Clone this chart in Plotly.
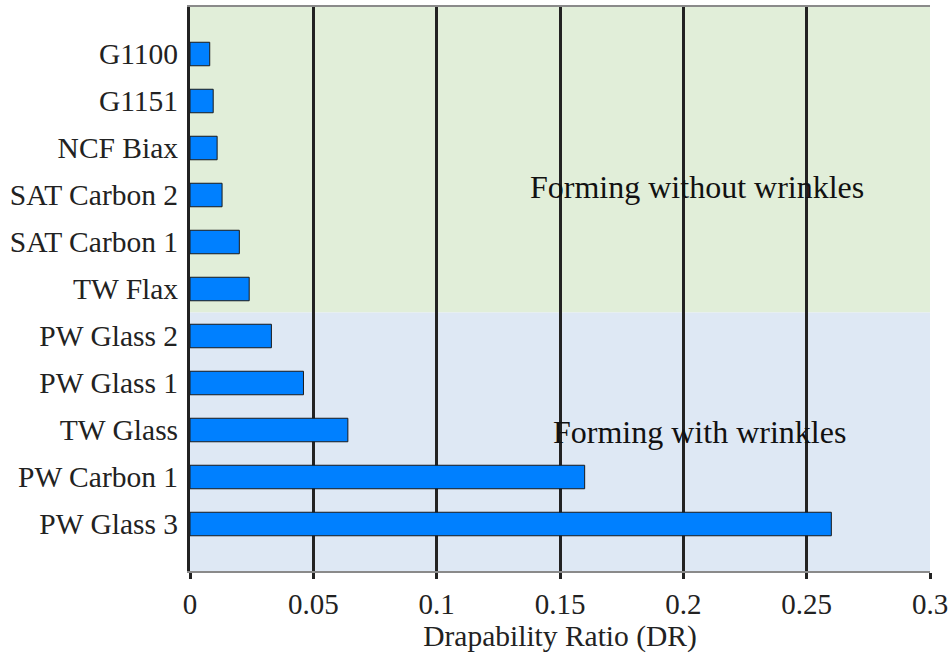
import plotly.graph_objects as go

categories = ["PW Glass 3", "PW Carbon 1", "TW Glass", "PW Glass 1", "PW Glass 2",
              "TW Flax", "SAT Carbon 1", "SAT Carbon 2", "NCF Biax", "G1151", "G1100"]
dr_values = [0.260, 0.160, 0.064, 0.046, 0.033, 0.024, 0.020, 0.013, 0.011, 0.0094, 0.008]
x_ticks = [0, 0.05, 0.1, 0.15, 0.2, 0.25, 0.3]
x_tick_labels = ["0", "0.05", "0.1", "0.15", "0.2", "0.25", "0.3"]
region_labels = ["Forming without wrinkles", "Forming with wrinkles"]

FONT = "Liberation Serif"

fig = go.Figure()
fig.add_trace(go.Bar(
    x=dr_values, y=categories, orientation="h", width=0.5,
    marker=dict(color="#0080FF", line=dict(color="#1a1a1a", width=1)),
    showlegend=False, hoverinfo="x+y",
))

# background regions
fig.add_shape(type="rect", xref="x domain", yref="y", x0=-0.004, x1=1, y0=4.5, y1=11,
              fillcolor="#E1EED9", line_width=0, layer="below")
fig.add_shape(type="rect", xref="x domain", yref="y", x0=-0.004, x1=1, y0=-1, y1=4.5,
              fillcolor="#DEE8F4", line_width=0, layer="below")

fig.add_annotation(x=0.2055, y=7.17, xref="x", yref="y", text=region_labels[0],
                   showarrow=False, font=dict(family=FONT, size=32, color="#111"))
fig.add_annotation(x=0.2065, y=1.96, xref="x", yref="y", text=region_labels[1],
                   showarrow=False, font=dict(family=FONT, size=32, color="#111"))

fig.update_layout(
    width=951, height=657,
    margin=dict(l=190, r=21, t=7, b=86, autoexpand=False),
    paper_bgcolor="white", plot_bgcolor="rgba(0,0,0,0)",
    font=dict(family=FONT, size=29, color="#222"),
    bargap=0.5,
    xaxis=dict(
        range=[0, 0.3], tickvals=x_ticks, ticktext=x_tick_labels,
        showgrid=True, gridcolor="#222", gridwidth=3,
        zeroline=False, automargin=False,
        showline=True, linecolor="#8a8a8a", linewidth=2, mirror=True,
        ticks="outside", ticklen=6, tickwidth=3, tickcolor="#222",
        layer="below traces",
        title=dict(text="Drapability Ratio (DR)", font=dict(family=FONT, size=29.5, color="#222"), standoff=6),
        tickfont=dict(family=FONT, size=29, color="#222"),
    ),
    yaxis=dict(
        type="category", categoryorder="array", categoryarray=categories,
        range=[-1, 11], showgrid=False, zeroline=False, automargin=False,
        showline=True, linecolor="#222", linewidth=3,
        ticks="", ticklabelstandoff=3,
        tickfont=dict(family=FONT, size=29.5, color="#222"),
    ),
    yaxis2=dict(
        overlaying="y", side="right", range=[-1, 11], automargin=False,
        tickvals=list(range(len(categories))), showticklabels=False,
        ticks="inside", ticklen=7, tickwidth=2, tickcolor="#888",
        showgrid=False, zeroline=False,
        showline=True, linecolor="#222", linewidth=3,
    ),
)

fig.write_html("out.html", config={"displayModeBar": False},
               post_script="document.body.style.margin='0px';document.body.style.overflow='hidden';")
